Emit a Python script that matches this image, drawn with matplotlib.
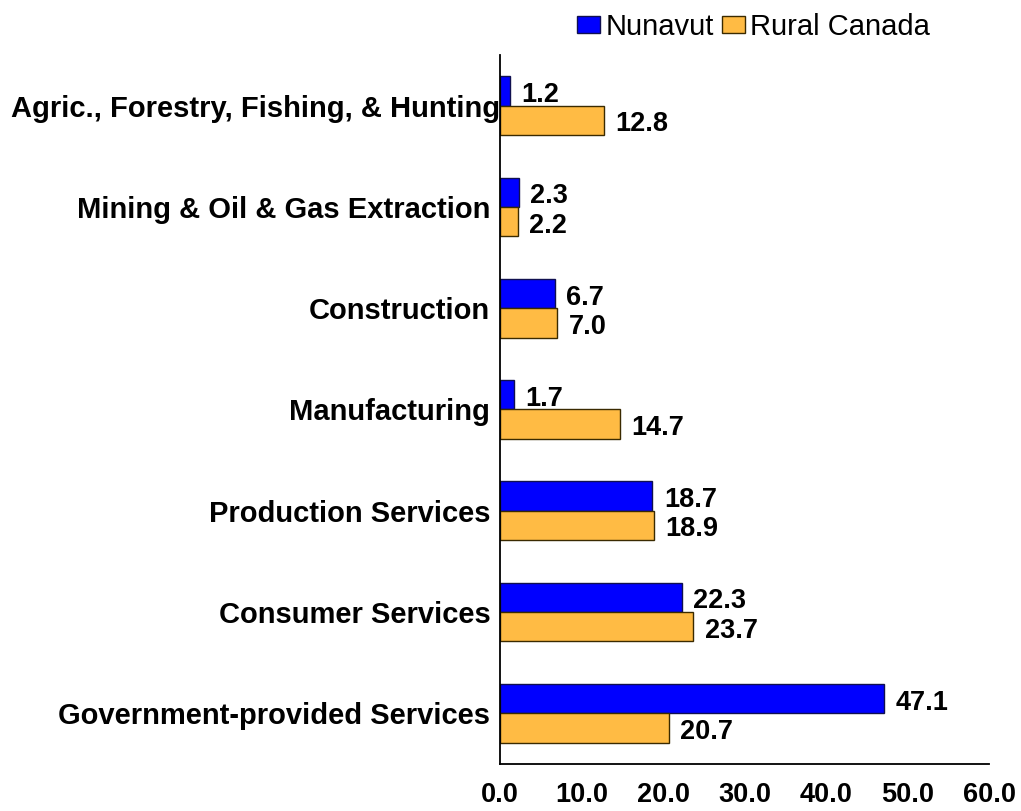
import matplotlib.pyplot as plt
import matplotlib.transforms as mtransforms
import numpy as np
from matplotlib.patches import Patch

categories = ["Agric., Forestry, Fishing, & Hunting", "Mining & Oil & Gas Extraction",
              "Construction", "Manufacturing", "Production Services",
              "Consumer Services", "Government-provided Services"]
nunavut = [1.2, 2.3, 6.7, 1.7, 18.7, 22.3, 47.1]
rural = [12.8, 2.2, 7.0, 14.7, 18.9, 23.7, 20.7]
xticks = [0, 10, 20, 30, 40, 50, 60]

plt.rcParams['font.family'] = ['Liberation Sans', 'DejaVu Sans']

blue = '#0000FF'
orange = '#FFBB44'
blue_edge = '#101050'
orange_edge = '#3a2a00'

fig = plt.figure(figsize=(10.21, 8.11), dpi=100)
ax = fig.add_axes([0.4897, 0.058, 0.479, 0.8742])

y = np.arange(len(categories))
h = 0.29
ax.barh(y - h / 2, nunavut, height=h, color=blue, edgecolor=blue_edge, linewidth=1)
ax.barh(y + h / 2, rural, height=h, color=orange, edgecolor=orange_edge, linewidth=1)

for i in range(len(categories)):
    ax.text(nunavut[i] + 1.4, y[i] - h / 2 + 0.04, f"{nunavut[i]:.1f}", va='center', ha='left',
            fontsize=19.5, fontweight='bold')
    ax.text(rural[i] + 1.4, y[i] + h / 2 + 0.04, f"{rural[i]:.1f}", va='center', ha='left',
            fontsize=19.5, fontweight='bold')

ax.set_xlim(0, 60)
ax.set_ylim(6.5, -0.5)
ax.set_yticks(y)
ax.set_yticklabels(categories, fontsize=21, fontweight='bold')
ax.set_xticks(xticks)
ax.set_xticklabels([f"{t:.1f}" for t in xticks], fontsize=19.5, fontweight='bold')
ax.tick_params(axis='y', length=0, pad=7)
ax.tick_params(axis='x', length=0, pad=13)
for s in ['top', 'right']:
    ax.spines[s].set_visible(False)
for s in ['left', 'bottom']:
    ax.spines[s].set_linewidth(1.3)

# the long first label runs over the axis line in the original
lab0 = ax.get_yticklabels()[0]
lab0.set_transform(lab0.get_transform() + mtransforms.ScaledTranslation(10 / 100, 0, fig.dpi_scale_trans))

handles = [Patch(facecolor=blue, edgecolor=blue_edge, label='Nunavut'),
           Patch(facecolor=orange, edgecolor=orange_edge, label='Rural Canada')]
fig.legend(handles=handles, loc='upper left', bbox_to_anchor=(0.565, 0.984), ncol=2,
           frameon=False, fontsize=21, handlelength=0.8, handleheight=0.5,
           handletextpad=0.17, columnspacing=0.28, borderaxespad=0, borderpad=0)

fig.savefig('out.png', dpi=100)
